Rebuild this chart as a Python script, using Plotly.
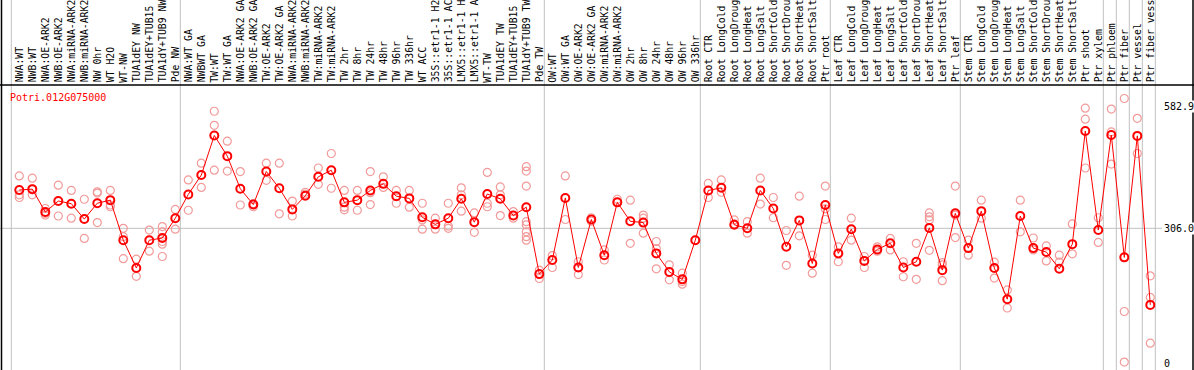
import plotly.graph_objects as go

gene = "Potri.012G075000"

labels = [
    "NWA:WT", "NWB:WT", "NWA:OE-ARK2", "NWB:OE-ARK2", "NWA:miRNA-ARK2", "NWB:miRNA-ARK2",
    "NW 0hr", "WT H2O", "WT-NW", "TUA1dEY NW", "TUA1dEY+TUB15 NW", "TUA1dY+TUB9 NW", "Pde NW",
    "NWA:WT GA", "NWBWT GA", "TW:WT", "TW:WT GA", "NWA:OE-ARK2 GA", "NWB:OE-ARK2 GA",
    "TW:OE-ARK2", "TW:OE-ARK2 GA", "NWA:miRNA-ARK2 GA", "NWB:miRNA-ARK2 GA", "TW:miRNA-ARK2",
    "TW:miRNA-ARK2 GA", "TW 2hr", "TW 8hr", "TW 24hr", "TW 48hr", "TW 96hr", "TW 336hr", "WT ACC",
    "35S::etr1-1 H2O", "35S::etr1-1 ACC", "LMX5::etr1-1 H2O", "LMX5::etr1-1 ACC", "WT-TW",
    "TUA1dEY TW", "TUA1dEY+TUB15 TW", "TUA1dY+TUB9 TW", "Pde TW",
    "OW:WT", "OW:WT GA", "OW:OE-ARK2", "OW:OE-ARK2 GA", "OW:miRNA-ARK2", "OW:miRNA-ARK2 GA",
    "OW 2hr", "OW 8hr", "OW 24hr", "OW 48hr", "OW 96hr", "OW 336hr",
    "Root CTR", "Root LongCold", "Root LongDrought", "Root LongHeat", "Root LongSalt",
    "Root ShortCold", "Root ShortDrought", "Root ShortHeat", "Root ShortSalt", "Ptr root",
    "Leaf CTR", "Leaf LongCold", "Leaf LongDrought", "Leaf LongHeat", "Leaf LongSalt",
    "Leaf ShortCold", "Leaf ShortDrought", "Leaf ShortHeat", "Leaf ShortSalt", "Ptr leaf",
    "Stem CTR", "Stem LongCold", "Stem LongDrought", "Stem LongHeat", "Stem LongSalt",
    "Stem ShortCold", "Stem ShortDrought", "Stem ShortHeat", "Stem ShortSalt", "Ptr shoot",
    "Ptr xylem", "Ptr phloem", "Ptr fiber", "Ptr vessel", "Ptr fiber vessel",
]

means = [
    393, 395, 343, 368, 362, 327, 363, 370, 279, 216, 279, 284, 329,
    383, 427, 517, 470, 396, 360, 435, 397, 349, 380, 423, 438, 365, 370, 392, 407,
    379, 374, 331, 315, 329, 373, 320, 384, 373, 335, 354, 202,
    234, 375, 217, 326, 245, 365, 322, 319, 249, 207, 190, 279,
    392, 398, 314, 306, 392, 351, 264, 324, 226, 359,
    249, 304, 232, 258, 272, 217, 230, 307, 211, 340,
    261, 345, 216, 145, 334, 261, 252, 214, 270, 527, 302,
    518, 240, 516, 132,
]

replicates = [
    [425, 382, 376], [420, 382, 395], [351, 340, 336], [404, 334], [392, 329], [372, 283],
    [389, 386, 319], [392, 359, 355], [306, 287, 237], [236, 197], [302, 254],
    [310, 298, 276, 270, 242], [349, 304],
    [416, 347], [454, 399], [572, 540, 438], [504, 436], [435, 359], [355, 362], [454, 415],
    [454, 339], [368, 334], [388, 384], [443, 406], [476, 397], [392, 354, 348], [392, 347],
    [435, 387, 360], [423, 399], [392, 363], [392, 354], [363, 325, 304], [329, 304],
    [363, 311, 306], [398, 382, 345], [341, 297], [433, 363, 355], [400, 382, 335], [344, 329],
    [446, 436, 402, 321, 314, 298, 287, 279], [211, 192],
    [244, 217], [425, 326], [230, 201], [330, 322], [257, 234], [372, 365], [370, 272],
    [336, 329, 295], [276, 260, 214], [223, 189], [204, 185, 179], [279],
    [408, 376], [416, 388], [325, 316], [321, 295], [420, 361], [376, 330], [301, 222],
    [379, 289], [245, 204], [402, 350, 326],
    [264, 230], [329, 279], [242, 217], [264, 254], [283, 257], [230, 196], [272, 190],
    [341, 332, 325, 256], [228, 223, 187], [402, 336, 285],
    [279, 245], [370, 329], [229, 193], [166, 125], [370, 298], [284, 257], [266, 232],
    [245, 229], [316, 248], [579, 554, 443], [330, 274],
    [577, 525, 452], [601, 117, 2], [556, 476], [198, 149, 45],
]

# group separators (index of first sample in each group)
group_starts = [0, 13, 41, 53, 63, 73, 84, 85, 86, 87, 88]
axis_values = [582.9, 306.0, 0]
axis_texts = ["582.9", "306.0", "0"]

W, H = 1194, 370
TOP = 85
X0PX, STEP = 19.3, 13.0
xr = [-X0PX / STEP, (W - X0PX) / STEP]
VPP = 2.272
yr = [(363 - H) * VPP, (363 - TOP) * VPP]

xs = list(range(len(labels)))
rx, ry = [], []
for i, reps in enumerate(replicates):
    for v in reps:
        rx.append(i)
        ry.append(v)

FONT = "DejaVu Sans Mono"
fig = go.Figure()
fig.add_trace(go.Scatter(
    x=rx, y=ry, mode="markers", hoverinfo="skip",
    marker=dict(symbol="circle-open", size=8, color="#f29a9a", line=dict(width=1.2, color="#f29a9a")),
))
fig.add_trace(go.Scatter(
    x=xs, y=means, mode="lines+markers",
    line=dict(color="#ff0000", width=1),
    marker=dict(symbol="circle-open", size=8, color="#ff0000", line=dict(width=2, color="#ff0000")),
))

shapes = []
shapes.append(dict(type="line", xref="paper", yref="y", x0=0, x1=1162 / W,
                   y0=306.0, y1=306.0, line=dict(color="#c0c0c0", width=1), layer="below"))
top_paper = 1 + TOP / (H - TOP)
for g in group_starts:
    xp = (X0PX + g * STEP - 8) / W
    shapes.append(dict(type="line", xref="paper", yref="paper", x0=xp, x1=xp,
                       y0=0, y1=top_paper, line=dict(color="#c0c0c0", width=1), layer="below"))
shapes.append(dict(type="line", xref="paper", yref="paper", x0=0, x1=1, y0=1, y1=1,
                   line=dict(color="black", width=1.5)))
shapes.append(dict(type="line", xref="paper", yref="paper", x0=1.5 / W, x1=1.5 / W, y0=0, y1=top_paper,
                   line=dict(color="black", width=1.5)))
shapes.append(dict(type="line", xref="paper", yref="paper", x0=1193 / W, x1=1193 / W, y0=0, y1=top_paper,
                   line=dict(color="black", width=1.5)))

annotations = []
for i, lab in enumerate(labels):
    annotations.append(dict(
        x=i, y=1 + 1.5 / (H - TOP), xref="x", yref="paper", text=lab[:14],
        textangle=-90, xanchor="center", yanchor="bottom", showarrow=False,
        font=dict(family=FONT, size=9.8, color="black"), borderpad=0,
    ))
for v, t in zip(axis_values, axis_texts):
    annotations.append(dict(
        x=1163 / W, y=v, xref="paper", yref="y", text=t, xanchor="left", yanchor="middle",
        showarrow=False, font=dict(family=FONT, size=10, color="black"), bgcolor="white", borderpad=0,
    ))
annotations.append(dict(
    x=9 / W, y=1 - 12 / (H - TOP), xref="paper", yref="paper", text=gene, xanchor="left",
    yanchor="middle", showarrow=False, font=dict(family=FONT, size=10, color="#ff0000"), borderpad=0,
))

fig.update_layout(
    width=W, height=H, margin=dict(l=0, r=0, t=TOP, b=0),
    paper_bgcolor="white", plot_bgcolor="white", showlegend=False,
    xaxis=dict(range=xr, visible=False, fixedrange=True),
    yaxis=dict(range=yr, visible=False, fixedrange=True),
    shapes=shapes, annotations=annotations,
)
fig.write_html("out.html", config={"displayModeBar": False},
               post_script="document.body.style.margin='0';document.body.style.overflow='hidden';")
